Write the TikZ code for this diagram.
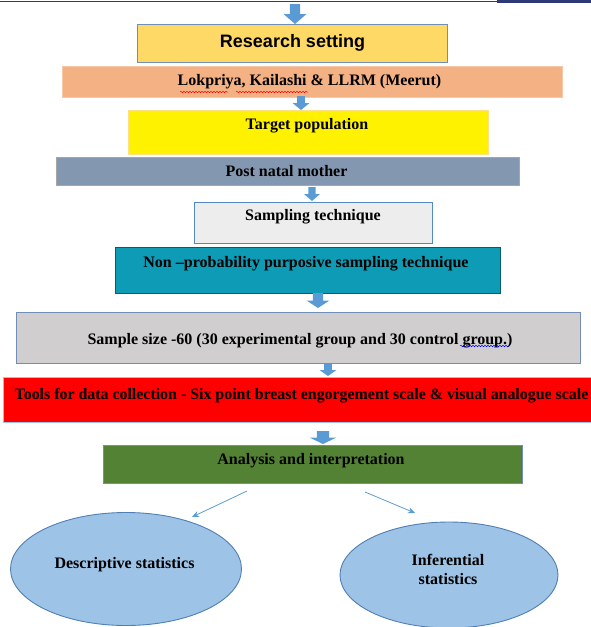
\documentclass[tikz,border=0pt]{standalone}
\usepackage{fontspec}
\setmainfont{Liberation Serif}
\newfontfamily\arialf{Liberation Sans}
\usetikzlibrary{shapes.geometric,arrows.meta,decorations.pathmorphing}
\definecolor{navy}{HTML}{2E3A78}
\definecolor{arrowblue}{HTML}{5B9BD5}
\definecolor{gold}{HTML}{FFD966}
\definecolor{peach}{HTML}{F4B183}
\definecolor{slate}{HTML}{8497B0}
\definecolor{lgray}{HTML}{EDEDED}
\definecolor{teal}{HTML}{0E9BB5}
\definecolor{mgray}{HTML}{D0CECE}
\definecolor{dgreen}{HTML}{548235}
\definecolor{ellfill}{HTML}{9DC3E6}
\definecolor{ellline}{HTML}{4F7FB3}
\definecolor{bordblue}{HTML}{6F8FB8}
\newcommand\blockarrowdown[4]{%
  \fill[arrowblue] ({#1-0.45*#4},#2) -- ({#1+0.45*#4},#2) -- ({#1+0.45*#4},{(#2+#3)/2}) --
    ({#1+#4},{(#2+#3)/2}) -- (#1,#3) -- ({#1-#4},{(#2+#3)/2}) -- ({#1-0.45*#4},{(#2+#3)/2}) -- cycle;}
\begin{document}
\begin{tikzpicture}[x=1pt,y=-1pt,
  box/.style={rectangle, draw, line width=0.9pt, inner sep=0pt},
  lbl/.style={font=\bfseries\fontsize{16}{18}\selectfont, inner sep=0pt, text=black},
  ell/.style={ellipse, draw=ellline, fill=ellfill, line width=0.9pt, inner sep=0pt},
  thinarrow/.style={draw=arrowblue, line width=0.8pt, -{Stealth[length=7pt,width=6pt]}},
  squig/.style={decorate, decoration={snake, amplitude=0.7pt, segment length=3pt}, line width=0.5pt}]
\useasboundingbox (0,0) rectangle (591,627);
% top rule
\draw[navy, line width=0.8pt] (0,1) -- (497,1);
\fill[navy] (497,0) rectangle (591,3);

% boxes
\node[box, draw=bordblue, fill=gold, minimum width=310pt, minimum height=38pt] (rs) at (292.5,43) {};
\node[inner sep=0pt, font=\arialf\bfseries\fontsize{18}{20}\selectfont] (rst) at (292.5,42.5) {Research setting};

\node[box, draw=peach!70, fill=peach, minimum width=500pt, minimum height=31pt] (lk) at (312,81.5) {};
\node[lbl] (lkt) at (309.5,81.5) {Lokpriya, Kailashi \& LLRM (Meerut)};
\draw[squig, red] (180,92) -- (228,92);
\draw[squig, red] (236,92) -- (308,92);

\node[box, draw=gold!80, fill=yellow, minimum width=360pt, minimum height=44pt] (tp) at (308,132) {};
\node[lbl] (tpt) at (307,125.5) {Target population};

\node[box, draw=gray!70, fill=slate, minimum width=463pt, minimum height=28pt] (pn) at (287.5,171) {};
\node[lbl] (pnt) at (286.5,171.5) {Post natal mother};

\node[box, draw=arrowblue!90!black, fill=lgray, minimum width=238pt, minimum height=41pt] (st) at (313,222.5) {};
\node[lbl] (stt) at (313,216.5) {Sampling technique};

\node[box, draw=teal!60!black, fill=teal, minimum width=385pt, minimum height=46pt] (np) at (307.5,270) {};
\node[lbl] (npt) at (306,263.5) {Non --probability purposive sampling technique};

\node[box, draw=bordblue, fill=mgray, minimum width=564pt, minimum height=51pt] (ss) at (298,337.5) {};
\node[lbl] (sst) at (300,340.5) {Sample size -60 (30 experimental group and 30 control group.)};
\draw[squig, blue] (460,346) -- (509,346);

\node[box, draw=ellfill, fill=red, minimum width=588pt, minimum height=45pt] (tl) at (297.5,399.5) {};
\node[lbl, font=\bfseries\fontsize{15.9}{18}\selectfont] (tlt) at (301.5,395.5) {Tools for data collection - Six point breast engorgement scale \& visual analogue scale};

\node[box, draw=bordblue, fill=dgreen, minimum width=419pt, minimum height=38pt] (an) at (312.5,464) {};
\node[lbl] (ant) at (311,460.5) {Analysis and interpretation};

\node[ell, minimum width=231pt, minimum height=113pt] (ds) at (126,569) {};
\node[lbl] (dst) at (124.5,564.5) {Descriptive statistics};

\node[ell, minimum width=218pt, minimum height=106pt] (is) at (449,575) {};
\node[lbl, align=center, font=\bfseries\fontsize{16}{19}\selectfont] (ist) at (448,569) {Inferential\\statistics};

% block arrows
\blockarrowdown{295}{4}{24}{11.5}
\blockarrowdown{301}{96}{110}{8.5}
\blockarrowdown{312}{187}{201}{8}
\blockarrowdown{318}{293}{308}{11.5}
\blockarrowdown{328}{364}{376}{8.5}
\blockarrowdown{323}{431}{444}{13.5}

% thin arrows
\coordinate (la) at (247,491);
\coordinate (lb) at (192,517);
\coordinate (ra) at (365,492);
\coordinate (rb) at (415,513);
\draw[thinarrow] (la) -- (lb);
\draw[thinarrow] (ra) -- (rb);
\end{tikzpicture}
\end{document}
